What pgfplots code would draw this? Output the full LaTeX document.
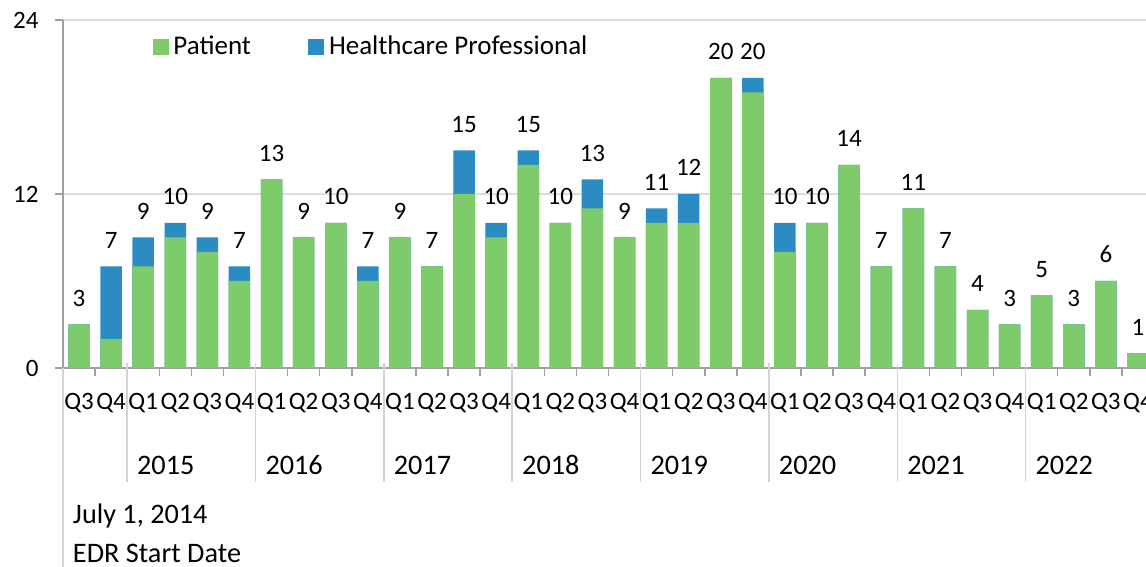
\documentclass[border=0pt]{standalone}
\usepackage{pgfplots}
\pgfplotsset{compat=1.18}
\usepackage{pgfplotstable}
\usepackage{fontspec}
\setmainfont{Carlito}
\definecolor{patient}{RGB}{125,203,107}
\definecolor{hcp}{RGB}{43,140,196}
\definecolor{axgray}{RGB}{160,160,160}
\definecolor{sepgray}{RGB}{212,212,212}
\definecolor{gridgray}{RGB}{220,220,220}
\newcommand\valfont{\fontsize{10}{12}\selectfont}
\newcommand\qfont{\fontsize{10}{12}\selectfont}
\newcommand\yrfont{\fontsize{11.3}{13}\selectfont}
\newcommand\legfont{\fontsize{10.8}{13}\selectfont}
\pgfplotsset{/pgf/number format/assume math mode=true}

% x = quarter index, pat = patient, hcp = healthcare professional, tot = total
\pgfplotstableread{
x pat hcp tot
0 3 0 3
1 2 5 7
2 7 2 9
3 9 1 10
4 8 1 9
5 6 1 7
6 13 0 13
7 9 0 9
8 10 0 10
9 6 1 7
10 9 0 9
11 7 0 7
12 12 3 15
13 9 1 10
14 14 1 15
15 10 0 10
16 11 2 13
17 9 0 9
18 10 1 11
19 10 2 12
20 20 0 20
21 19 1 20
22 8 2 10
23 10 0 10
24 14 0 14
25 7 0 7
26 11 0 11
27 7 0 7
28 4 0 4
29 3 0 3
30 5 0 5
31 3 0 3
32 6 0 6
33 1 0 1
}\data

\begin{document}
\begin{tikzpicture}
\begin{axis}[
  scale only axis, width=436.4pt, height=139.2pt,
  xmin=-0.5, xmax=33.5, ymin=0, ymax=24,
  clip=false,
  ybar, bar width=8.6pt, bar shift=0pt,
  axis lines*=left,
  axis line style={axgray, line width=0.6pt},
  ytick={0,12,24},
  ymajorgrids, grid style={gridgray, line width=0.6pt},
  xtick={0,...,33},
  xticklabels={Q3,Q4,Q1,Q2,Q3,Q4,Q1,Q2,Q3,Q4,Q1,Q2,Q3,Q4,Q1,Q2,Q3,Q4,Q1,Q2,Q3,Q4,Q1,Q2,Q3,Q4,Q1,Q2,Q3,Q4,Q1,Q2,Q3,Q4},
  minor xtick={-0.5,0.5,...,33.5},
  tick align=outside,
  major tick length=3.2pt, minor tick length=3.2pt,
  tick style={axgray, line width=0.6pt},
  major x tick style={draw=none},
  xticklabel style={font=\qfont, anchor=base, inner sep=0pt, yshift=-13.6pt},
  yticklabel style={font=\valfont, anchor=east, inner sep=0pt, xshift=-6.4pt},
  legend columns=2,
  legend style={at={(rel axis cs:0,1)}, anchor=north west, xshift=35.6pt, yshift=-5pt,
    draw=none, fill=none, inner sep=0pt, font=\legfont,
    nodes={inner xsep=2pt, inner ysep=1pt},
    /tikz/every even column/.append style={column sep=20.8pt}},
]
\addlegendimage{legend image code/.code={\fill[patient] (0pt,-3pt) rectangle (6pt,3pt);}}
\addlegendentry{Patient}
\addlegendimage{legend image code/.code={\fill[hcp] (0pt,-3pt) rectangle (6pt,3pt);}}
\addlegendentry{Healthcare Professional}
% total height (blue), with the total written above
\addplot[fill=hcp, draw=none, forget plot,
  point meta=explicit, nodes near coords,
  nodes near coords style={font=\valfont, text=black, anchor=base, inner sep=0pt, yshift=7.2pt}]
  table[x=x, y=tot, meta=tot] {\data};
% patient part (green) drawn over it
\addplot[fill=patient, draw=none, forget plot]
  table[x=x, y=pat] {\data};
% separators
\draw[sepgray, line width=0.6pt] (axis cs:-0.5,0) -- ([yshift=-80pt]axis cs:-0.5,0);
\pgfplotsinvokeforeach{1.5,5.5,9.5,13.5,17.5,21.5,25.5,29.5}{
  \draw[sepgray, line width=0.6pt] ([yshift=2pt]axis cs:#1,0) -- ([yshift=-45.6pt]axis cs:#1,0);
}
\node[anchor=base west, inner sep=0pt, font=\yrfont, xshift=3.8pt, yshift=-42.8pt] at (axis cs:1.5,0) {2015};
\node[anchor=base west, inner sep=0pt, font=\yrfont, xshift=3.8pt, yshift=-42.8pt] at (axis cs:5.5,0) {2016};
\node[anchor=base west, inner sep=0pt, font=\yrfont, xshift=3.8pt, yshift=-42.8pt] at (axis cs:9.5,0) {2017};
\node[anchor=base west, inner sep=0pt, font=\yrfont, xshift=3.8pt, yshift=-42.8pt] at (axis cs:13.5,0) {2018};
\node[anchor=base west, inner sep=0pt, font=\yrfont, xshift=3.8pt, yshift=-42.8pt] at (axis cs:17.5,0) {2019};
\node[anchor=base west, inner sep=0pt, font=\yrfont, xshift=3.8pt, yshift=-42.8pt] at (axis cs:21.5,0) {2020};
\node[anchor=base west, inner sep=0pt, font=\yrfont, xshift=3.8pt, yshift=-42.8pt] at (axis cs:25.5,0) {2021};
\node[anchor=base west, inner sep=0pt, font=\yrfont, xshift=3.8pt, yshift=-42.8pt] at (axis cs:29.5,0) {2022};
\node[anchor=base west, inner sep=0pt, font=\yrfont, xshift=3.8pt, yshift=-62.4pt] at (axis cs:-0.5,0) {July 1, 2014};
\node[anchor=base west, inner sep=0pt, font=\yrfont, xshift=3.8pt, yshift=-78pt] at (axis cs:-0.5,0) {EDR Start Date};
\coordinate (O) at (rel axis cs:0,0);
\end{axis}
\pgfresetboundingbox
\path[use as bounding box] ([xshift=-25.2pt, yshift=-79.6pt]O) rectangle ([xshift=433.2pt, yshift=147.2pt]O);
\end{tikzpicture}
\end{document}
